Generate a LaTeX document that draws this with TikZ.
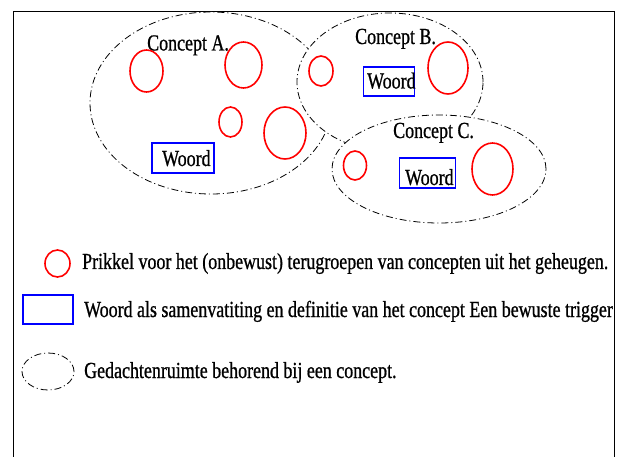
\documentclass[tikz,border=0pt]{standalone}
\usepackage{fontspec}
\setmainfont{Liberation Serif}
\newfontfamily\condfont[FakeStretch=0.78,FakeBold=0.8]{Liberation Serif}
\usetikzlibrary{shapes.geometric}
\tikzset{
  space/.style={ellipse, draw=black, fill=white, line width=0.8pt, inner sep=0pt, outer sep=0pt,
    dash pattern=on 7pt off 3pt on 1pt off 3pt},
  stim/.style={ellipse, draw=red, line width=1.6pt, inner sep=0pt},
  wbox/.style={rectangle, draw=blue, line width=1.6pt, inner sep=0pt},
  lbl/.style={anchor=base west, inner sep=0pt, font=\condfont\fontsize{23}{27}\selectfont, text=black},
}
\begin{document}
\begin{tikzpicture}[x=1pt, y=-1pt]
\useasboundingbox (0,0) rectangle (621,457);
% frame
\coordinate (f1) at (13.5,457);
\coordinate (f2) at (13.5,11);
\coordinate (f3) at (614,11);
\coordinate (f4) at (614,457);
\draw[line width=0.9pt] (f1) -- (f2) -- (f3) -- (f4);
% thought spaces
\node[space, minimum width=242pt, minimum height=182pt] (A) at (211,103) {};
\node[space, minimum width=186pt, minimum height=138pt] (B) at (390,82) {};
\node[space, minimum width=214pt, minimum height=108pt] (C) at (439,169) {};
% concept A
\node[lbl] (tA) at (147,50.5) {Concept A.};
\node[stim, minimum width=33pt, minimum height=42pt] (a1) at (146.5,71) {};
\node[stim, minimum width=37pt, minimum height=46pt] (a2) at (243.5,65) {};
\node[stim, minimum width=23pt, minimum height=30pt] (a3) at (230.5,122) {};
\node[stim, minimum width=42pt, minimum height=52pt] (a4) at (285,133) {};
\node[wbox, minimum width=62pt, minimum height=30pt] (wA) at (183,158) {};
\node[lbl] (twA) at (162,166) {Woord};
% concept B
\node[lbl] (tB) at (355,44) {Concept B.};
\node[stim, minimum width=24pt, minimum height=30pt] (b1) at (321,71) {};
\node[stim, minimum width=40pt, minimum height=52pt] (b2) at (448,68) {};
\node[wbox, minimum width=51pt, minimum height=29pt] (wB) at (389,81.5) {};
\node[lbl] (twB) at (367,88.5) {Woord};
% concept C
\node[lbl] (tC) at (393,138) {Concept C.};
\node[stim, minimum width=23pt, minimum height=29pt] (c1) at (355,165.5) {};
\node[stim, minimum width=41pt, minimum height=52pt] (c2) at (492.5,169) {};
\node[wbox, minimum width=56pt, minimum height=30pt] (wC) at (427.5,173) {};
\node[lbl] (twC) at (405,185) {Woord};
% legend
\node[stim, minimum width=25pt, minimum height=27pt] (l1) at (57.5,263.5) {};
\node[lbl] (lt1) at (82,269) {Prikkel voor het (onbewust) terugroepen van concepten uit het geheugen.};
\node[wbox, minimum width=50pt, minimum height=29pt] (l2) at (48,309.5) {};
\begin{scope}
\clip (0,0) rectangle (613.5,457);
\node[lbl] (lt2) at (84,317) {Woord als samenvatiting en definitie van het concept Een bewuste trigger};
\end{scope}
\node[space, minimum width=52pt, minimum height=37pt] (l3) at (48,371.5) {};
\node[lbl] (lt3) at (84,378) {Gedachtenruimte behorend bij een concept.};
\end{tikzpicture}
\end{document}
